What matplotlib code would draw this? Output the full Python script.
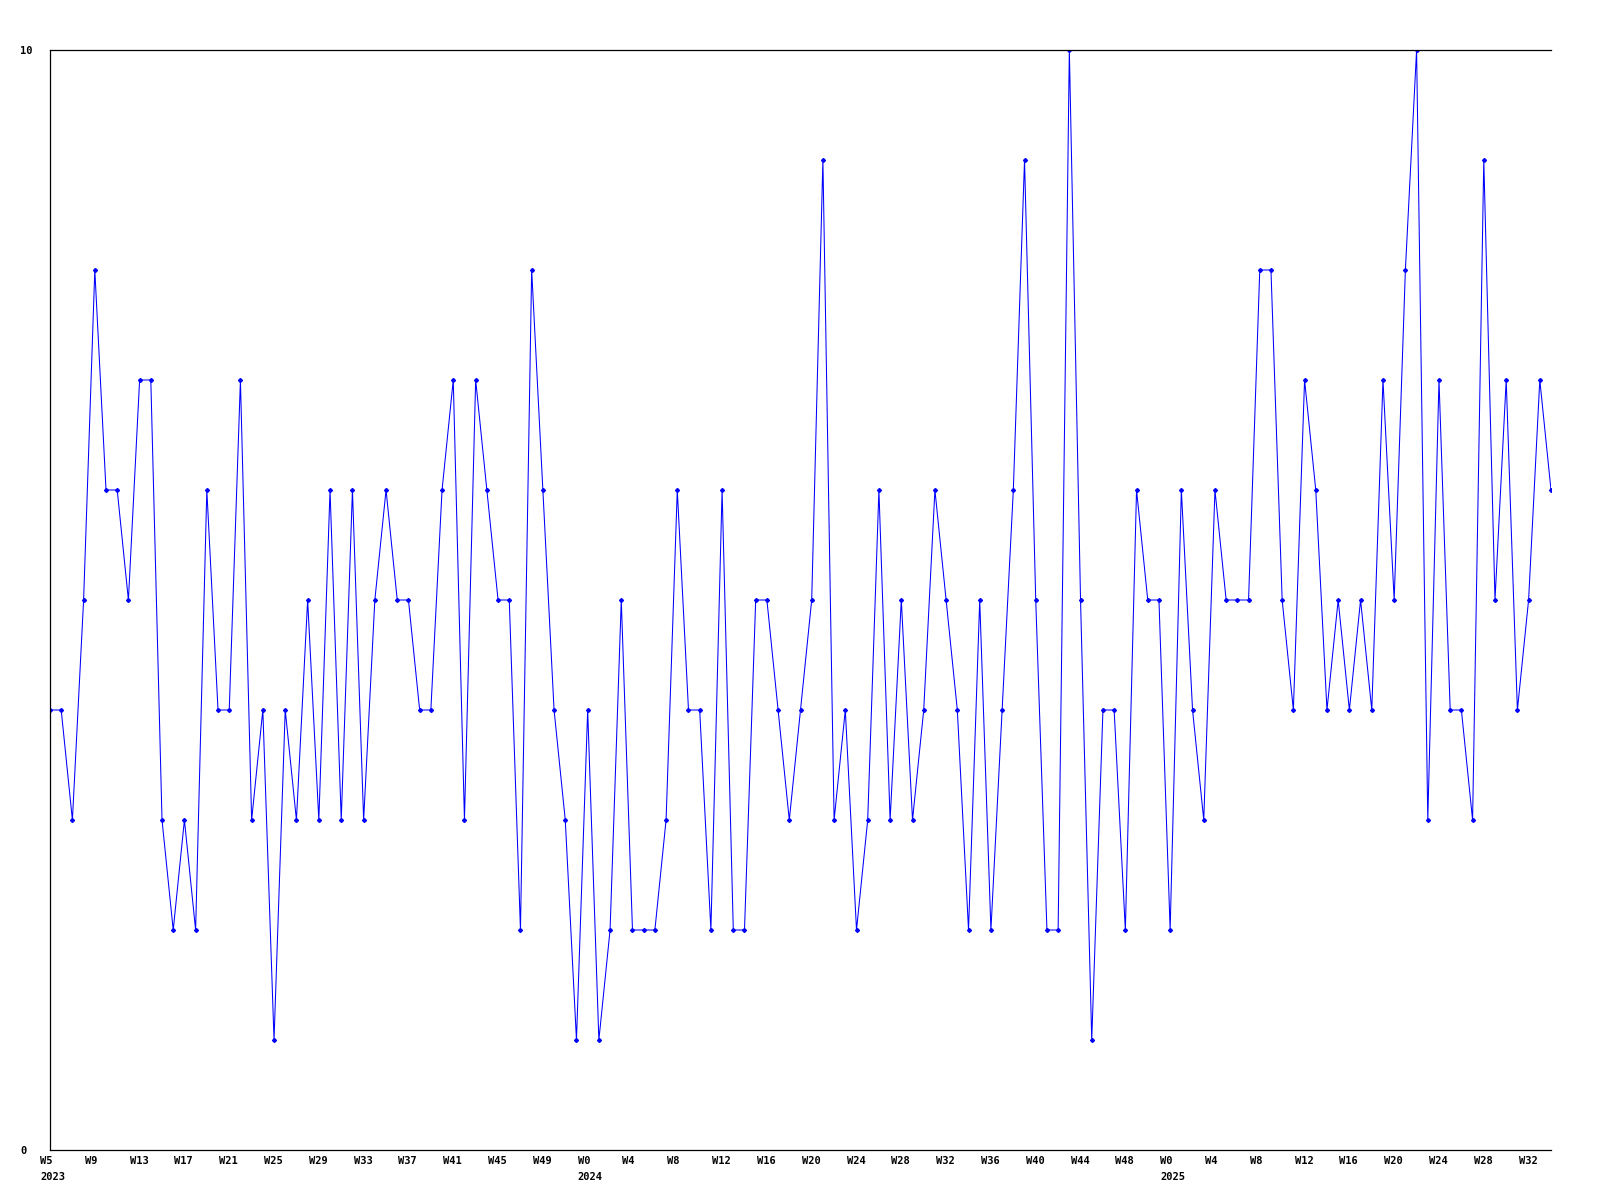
import numpy as np
import matplotlib
matplotlib.use("Agg")
import matplotlib.pyplot as plt
from matplotlib.transforms import ScaledTranslation

# weekly values, one list per year
vals_2023 = [4, 4, 3, 5, 8, 6, 6, 5, 7, 7, 3, 2, 3, 2, 6, 4, 4, 7, 3, 4, 1, 4, 3, 5,
             3, 6, 3, 6, 3, 5, 6, 5, 5, 4, 4, 6, 7, 3, 7, 6, 5, 5, 2, 8, 6, 4, 3, 1]
vals_2024 = [4, 1, 2, 5, 2, 2, 2, 3, 6, 4, 4, 2, 6, 2, 2, 5, 5, 4, 3, 4, 5, 9,
             3, 4, 2, 3, 6, 3, 5, 3, 4, 6, 5, 4, 2, 5, 2, 4, 6, 9, 5, 2, 2, 10, 5,
             1, 4, 4, 2, 6, 5, 5]
vals_2025 = [2, 6, 4, 3, 6, 5, 5, 5, 8, 8, 5, 4, 7, 6, 4, 5, 4,
             5, 4, 7, 5, 8, 10, 3, 7, 4, 4, 3, 9, 5, 7, 4, 5, 7, 6]

weeks_2023 = list(range(5, 53))
weeks_2024 = list(range(0, 52))
weeks_2025 = list(range(0, 35))

years = [2023] * len(weeks_2023) + [2024] * len(weeks_2024) + [2025] * len(weeks_2025)
weeks = weeks_2023 + weeks_2024 + weeks_2025
values = vals_2023 + vals_2024 + vals_2025

x = np.arange(len(values))

fig = plt.figure(figsize=(16, 12), dpi=100)
ax = fig.add_axes([50 / 1600, 50 / 1200, 1501 / 1600, 1100 / 1200])

ax.plot(x, values, color="#0000ff", lw=0.75, marker="D", markersize=2.0)

ax.set_xlim(0, len(values) - 1)
ax.set_ylim(0, 10)

for side in ["left", "bottom", "top"]:
    ax.spines[side].set_linewidth(0.9)
    ax.spines[side].set_color("black")
ax.spines["right"].set_visible(False)

font = dict(family="DejaVu Sans Mono", weight="bold", size=7.5)

# x ticks every 4 weeks, year under first tick and under W0
ticks = x[::4]
labels = []
prev_year = None
for i in ticks:
    lab = f"W{weeks[i]}"
    if years[i] != prev_year and (i == 0 or weeks[i] == 0):
        lab += f"\n{years[i]}"
        prev_year = years[i]
    labels.append(lab)
ax.set_xticks(ticks)
ax.set_xticklabels(labels, ha="left", linespacing=1.75, **font)
ax.tick_params(axis="x", length=0, pad=4)
for t in ax.get_xticklabels():
    t.set_transform(t.get_transform() + ScaledTranslation(-10 / 100, 0, fig.dpi_scale_trans))

ax.set_yticks([0, 10])
ax.set_yticklabels(["0", "10"], ha="left", **font)
ax.tick_params(axis="y", length=0, pad=0)
for t in ax.get_yticklabels():
    t.set_transform(t.get_transform() + ScaledTranslation(-30 / 100, 0, fig.dpi_scale_trans))

fig.savefig("out.png", dpi=100, facecolor="white")
